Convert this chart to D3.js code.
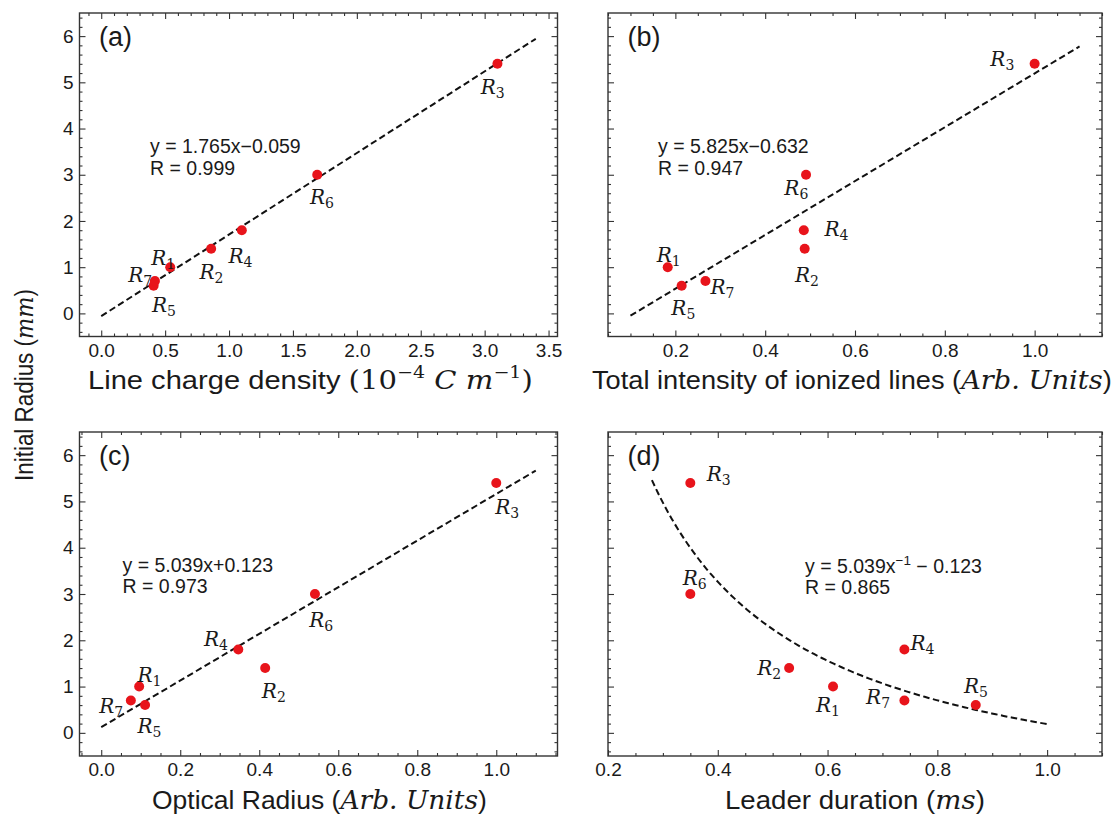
<!DOCTYPE html>
<html>
<head>
<meta charset="utf-8">
<script src="https://cdn.jsdelivr.net/npm/d3@7"></script>
<style>
  body { margin: 0; background: #fff; }
  svg { display: block; }
</style>
</head>
<body>
<svg id="fig" width="1115" height="817"></svg>
<script>
// ---- data: seven return strokes R1..R7 ----
const runs = ["1", "2", "3", "4", "5", "6", "7"];
const initialRadius = [1.0, 1.4, 5.4, 1.8, 0.6, 3.0, 0.7];          // mm
const chargeDensity = [0.54, 0.86, 3.10, 1.10, 0.41, 1.69, 0.42];   // 1e-4 C/m
const ionizedIntensity = [0.183, 0.488, 1.0, 0.486, 0.214, 0.491, 0.267];
const opticalRadius = [0.096, 0.415, 1.0, 0.347, 0.111, 0.541, 0.075];
const leaderDuration = [0.61, 0.53, 0.35, 0.74, 0.87, 0.35, 0.74];  // ms

// fitted relations: linear [slope, intercept], hyperbolic [a, b] for y = a/x + b
const fitCharge = [1.765, -0.059];
const fitIntensity = [5.825, -0.632];
const fitOptical = [5.039, 0.123];
const fitDuration = [2.05, -1.86];
const fitSpanCharge = [0, 3.4];
const fitSpanIntensity = [0.1, 1.1];
const fitSpanOptical = [0, 1.1];
const fitSpanDuration = [0.28, 1.0];

// axis ticks
const yTicks = [0, 1, 2, 3, 4, 5, 6];
const xTicksCharge = [0, 0.5, 1.0, 1.5, 2.0, 2.5, 3.0, 3.5];
const xTicksIntensity = [0.2, 0.4, 0.6, 0.8, 1.0];
const xTicksOptical = [0, 0.2, 0.4, 0.6, 0.8, 1.0];
const xTicksDuration = [0.2, 0.4, 0.6, 0.8, 1.0];

// ---- layout ----
const SANS = "'Liberation Sans', Arial, sans-serif";
const SERIF = "'DejaVu Serif', serif";
const FRAME = "#333";
const INK = "#1a1a1a";
const DOT = "#e8141b";
const yDomain = [-0.5, 6.5];

const svg = d3.select("#fig");

const panels = [
  {
    tag: "(a)", xs: chargeDensity, xDomain: [-0.17, 3.57], major: xTicksCharge, minorStep: 0.1,
    left: 79.5, right: 557.5, top: 13, bottom: 336.5, yLabels: true,
    fit: x => fitCharge[0] * x + fitCharge[1], span: fitSpanCharge,
    eq: ["y = 1.765x\u22120.059", "R = 0.999"], eqAt: [70.5, 140],
    labelOffsets: [[-19, -1.7], [-11.7, 30], [-16.7, 30], [-13.3, 32.7], [-1.7, 26], [-7.3, 29], [-26.7, 0.7]],
    xlabel: "charge", titleSpan: [88, 533]
  },
  {
    tag: "(b)", xs: ionizedIntensity, xDomain: [0.05, 1.15], major: xTicksIntensity, minorStep: 0.05,
    left: 608, right: 1102, top: 13, bottom: 336.5, yLabels: false,
    fit: x => fitIntensity[0] * x + fitIntensity[1], span: fitSpanIntensity,
    eq: ["y = 5.825x\u22120.632", "R = 0.947"], eqAt: [50, 140],
    labelOffsets: [[-11, -5], [-9.7, 33.3], [-44.3, 2], [20.7, 6], [-10.3, 29], [-21.7, 20], [5, 13.3]],
    xlabel: "intensity", titleSpan: [592, 1112]
  },
  {
    tag: "(c)", xs: opticalRadius, xDomain: [-0.055, 1.155], major: xTicksOptical, minorStep: 0.05,
    left: 79.5, right: 557.5, top: 432, bottom: 756, yLabels: true,
    fit: x => fitOptical[0] * x + fitOptical[1], span: fitSpanOptical,
    eq: ["y = 5.039x+0.123", "R = 0.973"], eqAt: [43, 139.7],
    labelOffsets: [[-1.7, -5], [-3.3, 29.7], [-1, 31.3], [-34.3, -3.3], [-7.7, 27.7], [-5.7, 33.3], [-31.7, 13]],
    xlabel: "optical", titleSpan: [152, 487]
  },
  {
    tag: "(d)", xs: leaderDuration, xDomain: [0.2, 1.1], major: xTicksDuration, minorStep: 0.05,
    left: 608, right: 1102, top: 432, bottom: 756, yLabels: false,
    fit: x => fitDuration[0] / x + fitDuration[1], span: fitSpanDuration, curved: true,
    eq: null, eqAt: [197, 141],
    labelOffsets: [[-17, 25], [-32, 7], [16.3, -2], [6, 0.7], [-11.7, -11.7], [-7.7, -9], [-38.3, 3.7]],
    xlabel: "duration", titleSpan: [725, 985]
  }
];

function minorTicks(domain, step, major) {
  const out = [];
  const start = Math.ceil(domain[0] / step - 1e-9);
  const end = Math.floor(domain[1] / step + 1e-9);
  for (let i = start; i <= end; i++) {
    const v = +(i * step).toFixed(6);
    if (!major.some(m => Math.abs(m - v) < 1e-6)) out.push(v);
  }
  return out;
}

function styleAxis(sel) {
  sel.select(".domain").remove();
  sel.selectAll(".tick line").attr("stroke", FRAME).attr("stroke-width", 1.1);
  sel.selectAll(".tick text")
    .attr("font-family", SANS).attr("font-size", 19).attr("fill", INK);
}

// stretch a left-anchored text horizontally so it spans [x0, x1]
function fitWidth(text, x0, x1, baseline) {
  const w = text.node().getComputedTextLength();
  const s = (x1 - x0) / w;
  text.attr("x", 0).attr("y", 0)
    .attr("transform", `translate(${x0},${baseline}) scale(${s},1)`);
}

function drawPanel(p) {
  const g = svg.append("g");
  const x = d3.scaleLinear().domain(p.xDomain).range([p.left, p.right]);
  const y = d3.scaleLinear().domain(yDomain).range([p.bottom, p.top]);
  const yMinor = minorTicks(yDomain, 0.2, yTicks);
  const xMinor = minorTicks(p.xDomain, p.minorStep, p.major);
  const fmtX = d3.format(".1f");

  // bottom
  g.append("g").attr("transform", `translate(0,${p.bottom})`)
    .call(d3.axisBottom(x).tickValues(p.major).tickSize(-6).tickPadding(7).tickFormat(fmtX)).call(styleAxis);
  g.append("g").attr("transform", `translate(0,${p.bottom})`)
    .call(d3.axisBottom(x).tickValues(xMinor).tickSize(-3).tickFormat("")).call(styleAxis);
  // top
  g.append("g").attr("transform", `translate(0,${p.top})`)
    .call(d3.axisTop(x).tickValues(p.major).tickSize(-6).tickFormat("")).call(styleAxis);
  g.append("g").attr("transform", `translate(0,${p.top})`)
    .call(d3.axisTop(x).tickValues(xMinor).tickSize(-3).tickFormat("")).call(styleAxis);
  // left
  g.append("g").attr("transform", `translate(${p.left},0)`)
    .call(d3.axisLeft(y).tickValues(yTicks).tickSize(-6).tickPadding(6)
      .tickFormat(p.yLabels ? d3.format("d") : "")).call(styleAxis);
  g.append("g").attr("transform", `translate(${p.left},0)`)
    .call(d3.axisLeft(y).tickValues(yMinor).tickSize(-3).tickFormat("")).call(styleAxis);
  // right
  g.append("g").attr("transform", `translate(${p.right},0)`)
    .call(d3.axisRight(y).tickValues(yTicks).tickSize(-6).tickFormat("")).call(styleAxis);
  g.append("g").attr("transform", `translate(${p.right},0)`)
    .call(d3.axisRight(y).tickValues(yMinor).tickSize(-3).tickFormat("")).call(styleAxis);

  // frame
  g.append("rect")
    .attr("x", p.left).attr("y", p.top)
    .attr("width", p.right - p.left).attr("height", p.bottom - p.top)
    .attr("fill", "none").attr("stroke", FRAME).attr("stroke-width", 1.4);

  // fit line / curve
  const fitPts = p.curved
    ? d3.range(0, 101).map(i => p.span[0] + (p.span[1] - p.span[0]) * i / 100)
    : p.span;
  g.append("path")
    .datum(fitPts)
    .attr("d", d3.line().x(d => x(d)).y(d => y(p.fit(d))))
    .attr("fill", "none").attr("stroke", "#111").attr("stroke-width", 2)
    .attr("stroke-dasharray", "6.5,3.5");

  // points
  const pts = runs.map((r, i) => ({ r, xv: p.xs[i], yv: initialRadius[i], off: p.labelOffsets[i] }));
  g.selectAll("circle.pt").data(pts).join("circle")
    .attr("class", "pt")
    .attr("cx", d => x(d.xv)).attr("cy", d => y(d.yv)).attr("r", 5)
    .attr("fill", DOT);

  // R labels
  const lab = g.selectAll("text.run").data(pts).join("text")
    .attr("class", "run")
    .attr("x", d => x(d.xv) + d.off[0])
    .attr("y", d => y(d.yv) + d.off[1])
    .attr("font-family", SERIF).attr("fill", INK);
  lab.append("tspan").attr("font-style", "italic").attr("font-size", 20).text("R");
  lab.append("tspan").attr("font-size", 14).attr("dy", 4).text(d => d.r);

  // panel tag
  g.append("text").attr("x", p.left + 19.5).attr("y", p.top + 33)
    .attr("font-family", SANS).attr("font-size", 27).attr("fill", INK).text(p.tag);

  // fit equation
  const ex = p.left + p.eqAt[0], ey = p.top + p.eqAt[1];
  const eqFont = 19.5;
  if (p.eq) {
    g.append("text").attr("x", ex).attr("y", ey)
      .attr("font-family", SANS).attr("font-size", eqFont).attr("fill", INK).text(p.eq[0]);
    g.append("text").attr("x", ex).attr("y", ey + 21.5)
      .attr("font-family", SANS).attr("font-size", eqFont).attr("fill", INK).text(p.eq[1]);
  } else {
    const t = g.append("text").attr("x", ex).attr("y", ey)
      .attr("font-family", SANS).attr("font-size", eqFont).attr("fill", INK);
    t.append("tspan").text("y = 5.039x");
    t.append("tspan").attr("font-size", 13.5).attr("dy", -8).text("\u22121");
    t.append("tspan").attr("dy", 8).text(" \u2212 0.123");
    g.append("text").attr("x", ex).attr("y", ey + 21)
      .attr("font-family", SANS).attr("font-size", eqFont).attr("fill", INK).text("R = 0.865");
  }

  // x axis title
  const xt = g.append("text")
    .attr("font-family", SANS).attr("font-size", 26).attr("fill", INK);
  if (p.xlabel === "charge") {
    xt.append("tspan").text("Line charge density ");
    xt.append("tspan").attr("font-family", SERIF).text("(10");
    xt.append("tspan").attr("font-family", SERIF).attr("font-size", 17).attr("dy", -11).text("\u22124");
    xt.append("tspan").attr("font-family", SERIF).attr("font-style", "italic").attr("dy", 11).text(" C m");
    xt.append("tspan").attr("font-family", SERIF).attr("font-size", 17).attr("dy", -11).text("\u22121");
    xt.append("tspan").attr("font-family", SERIF).attr("dy", 11).text(")");
  } else if (p.xlabel === "intensity" || p.xlabel === "optical") {
    xt.append("tspan").text(p.xlabel === "intensity" ? "Total intensity of ionized lines (" : "Optical Radius (");
    xt.append("tspan").attr("font-family", SERIF).attr("font-style", "italic").text("Arb. Units");
    xt.append("tspan").text(")");
  } else {
    xt.append("tspan").text("Leader duration (");
    xt.append("tspan").attr("font-family", SERIF).attr("font-style", "italic").text("ms");
    xt.append("tspan").text(")");
  }
  fitWidth(xt, p.titleSpan[0], p.titleSpan[1], p.bottom + 52.5);
}

panels.forEach(drawPanel);

// shared y axis title
const yt = svg.append("text")
  .attr("text-anchor", "middle").attr("font-family", SANS).attr("font-size", 25).attr("fill", INK);
yt.append("tspan").text("Initial Radius (");
yt.append("tspan").attr("font-family", SERIF).attr("font-style", "italic").text("mm");
yt.append("tspan").text(")");
{
  const len = yt.node().getComputedTextLength();
  const s = 192 / len;
  yt.attr("transform", `translate(33,385) rotate(-90) scale(${s},1)`);
}
</script>
</body>
</html>
